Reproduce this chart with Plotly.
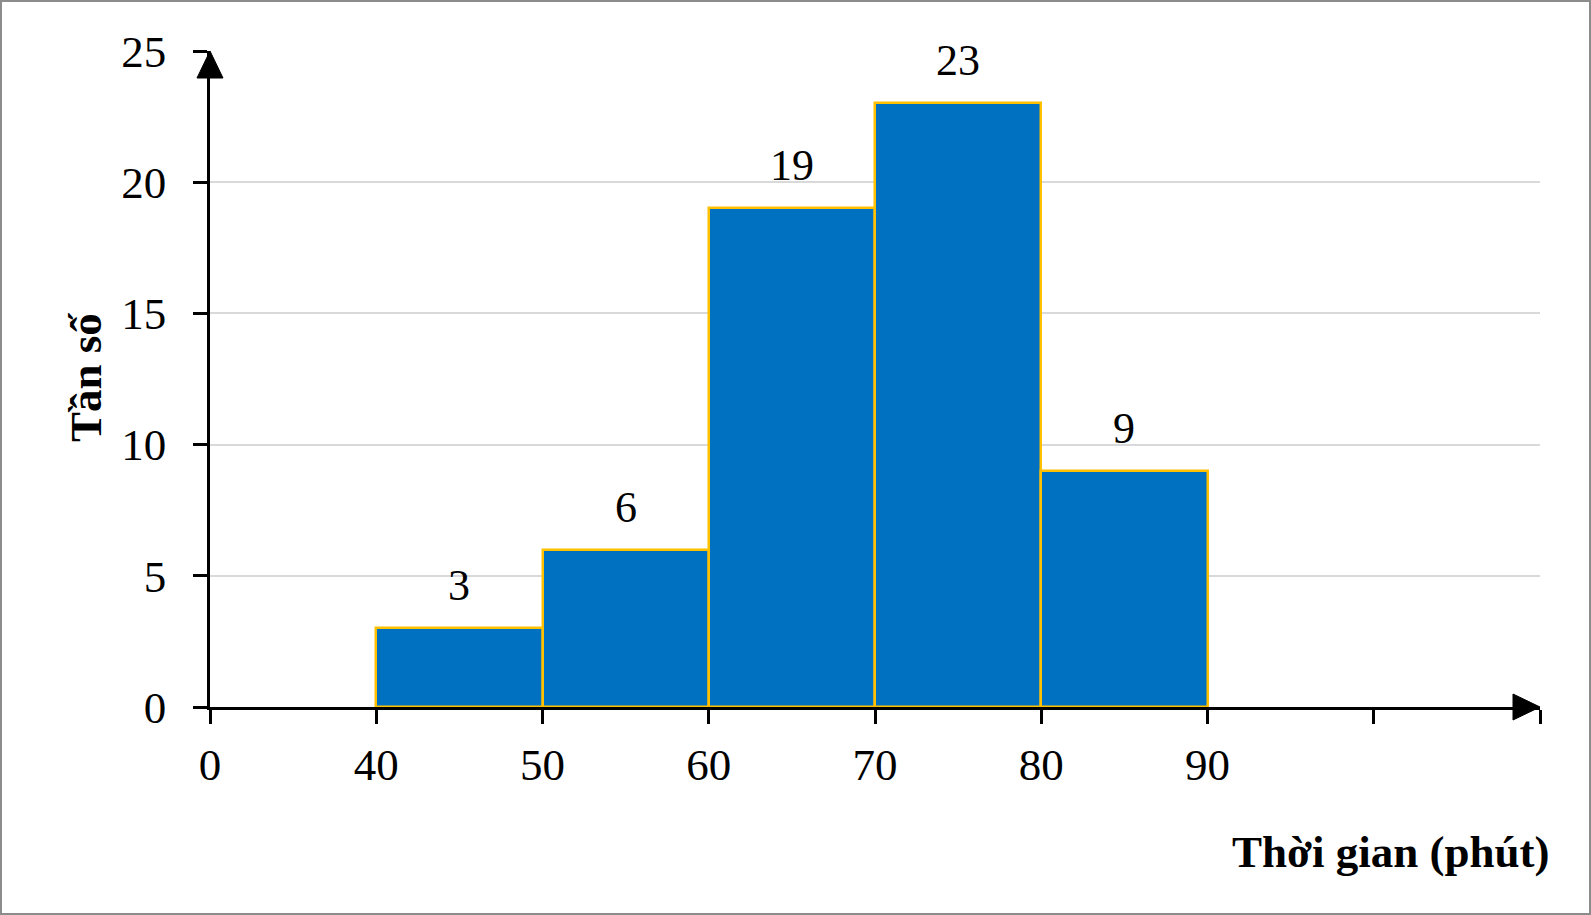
import plotly.graph_objects as go

# Data
bin_left = [40, 50, 60, 70, 80]
bin_width = 10
freq = [3, 6, 19, 23, 9]
x_tickvals = [30, 40, 50, 60, 70, 80, 90, 100, 110]
x_ticktext = ["0", "40", "50", "60", "70", "80", "90", "", ""]
y_tickvals = [0, 5, 10, 15, 20, 25]

W, H = 1591, 915
ML, MR, MT, MB = 210, 51, 51, 208
PW, PH = W - ML - MR, H - MT - MB

FONT = "Liberation Serif"
centers = [l + bin_width / 2 for l in bin_left]

fig = go.Figure()
fig.add_trace(go.Bar(
    x=centers, y=freq, width=[bin_width] * len(freq),
    marker=dict(color="#0070C0", line=dict(color="#FFC000", width=2.5)),
    hoverinfo="x+y", showlegend=False,
))

for c, f in zip(centers, freq):
    fig.add_annotation(x=c, y=f, text=str(f), showarrow=False,
                       yanchor="bottom", yshift=16,
                       font=dict(family=FONT, size=44, color="black"))

fig.update_xaxes(range=[30, 110], tickvals=x_tickvals, ticktext=x_ticktext,
                 showline=True, linecolor="black", linewidth=2.5,
                 ticks="outside", ticklen=14, tickwidth=2.5, tickcolor="black",
                 showgrid=False, zeroline=False,
                 tickfont=dict(family=FONT, size=45, color="black"),
                 ticklabelstandoff=2)
fig.update_yaxes(range=[0, 25], tickvals=y_tickvals,
                 showline=True, linecolor="black", linewidth=2.5,
                 ticks="outside", ticklen=14, tickwidth=2.5, tickcolor="black",
                 showgrid=True, gridcolor="#D9D9D9", gridwidth=2,
                 zeroline=False,
                 tickfont=dict(family=FONT, size=45, color="black"),
                 ticklabelstandoff=18)

# arrowheads on axes
fig.add_shape(type="path", xref="paper", yref="paper", xsizemode="pixel", ysizemode="pixel",
              xanchor=0, yanchor=1, path="M -13,-27 L 13,-27 L 0,0 Z",
              fillcolor="black", line=dict(color="black", width=1), layer="above")
fig.add_shape(type="path", xref="paper", yref="paper", xsizemode="pixel", ysizemode="pixel",
              xanchor=1, yanchor=0, path="M -27,-13 L -27,13 L 0,0 Z",
              fillcolor="black", line=dict(color="black", width=1), layer="above")

# outer frame
fig.add_shape(type="rect", xref="paper", yref="paper",
              x0=-(ML - 1) / PW, x1=1 + (MR - 1) / PW,
              y0=-(MB - 1) / PH, y1=1 + (MT - 1) / PH,
              line=dict(color="#8C8C8C", width=2), fillcolor="rgba(0,0,0,0)")

fig.add_annotation(text="<b>Thời gian (phút)</b>", xref="paper", yref="paper",
                   x=1 + 12 / PW, y=-(852 - (MT + PH)) / PH, xanchor="right", yanchor="middle",
                   showarrow=False, font=dict(family=FONT, size=45, color="black"))
fig.add_annotation(text="<b>Tần số</b>", xref="paper", yref="paper",
                   x=-(ML - 86) / PW, y=1 - (378 - MT) / PH, xanchor="center", yanchor="middle",
                   textangle=-90, showarrow=False,
                   font=dict(family=FONT, size=45, color="black"))

fig.update_layout(width=W, height=H, margin=dict(l=ML, r=MR, t=MT, b=MB),
                  paper_bgcolor="white", plot_bgcolor="white", bargap=0)

fig.write_html("out.html")
